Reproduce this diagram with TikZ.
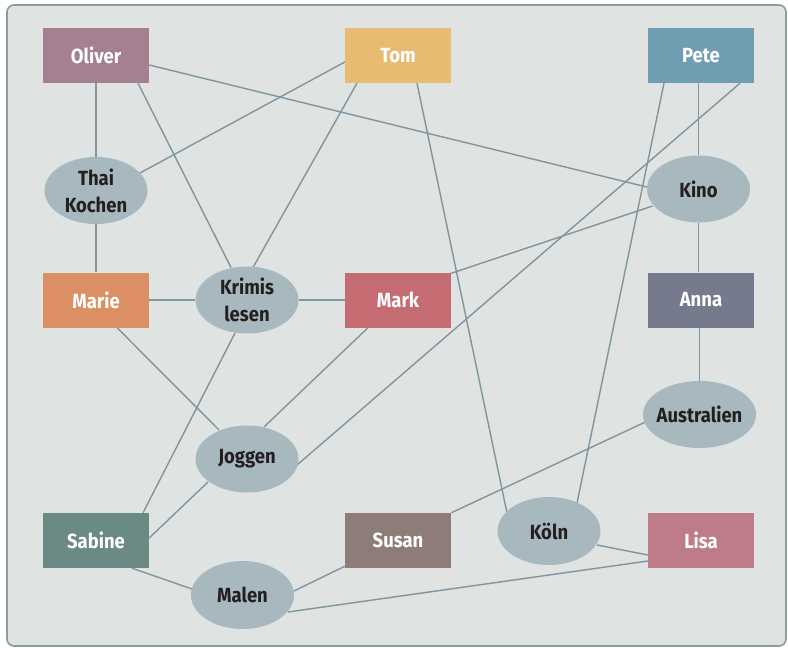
\documentclass[tikz,border=0pt]{standalone}
\usepackage{fontspec}
\setmainfont{Fira Sans}[FakeStretch=0.9]
\usetikzlibrary{shapes.geometric,calc,backgrounds}

\definecolor{panelfill}{HTML}{DFE3E2}
\definecolor{paneldraw}{HTML}{8E9C97}
\definecolor{linkcol}{HTML}{7F959F}
\definecolor{hobbyfill}{HTML}{A8B8BF}
\definecolor{darktext}{HTML}{231F20}
\definecolor{colOliver}{HTML}{A58093}
\definecolor{colTom}{HTML}{E8BB72}
\definecolor{colPete}{HTML}{6F9DB1}
\definecolor{colMarie}{HTML}{DC8F63}
\definecolor{colMark}{HTML}{C56C73}
\definecolor{colAnna}{HTML}{757A8C}
\definecolor{colSabine}{HTML}{6B8A85}
\definecolor{colSusan}{HTML}{8E7C78}
\definecolor{colLisa}{HTML}{BE7C89}

\begin{document}
\begin{tikzpicture}[x=1pt,y=-1pt,
  labelfont/.style={font=\bfseries\fontsize{20.5}{27}\selectfont},
  person/.style={rectangle, labelfont, minimum width=106pt, minimum height=55pt,
    inner sep=0pt, text=white},
  hobby/.style={ellipse, labelfont, fill=hobbyfill, minimum width=103pt,
    minimum height=67pt, inner sep=0pt, text=darktext, align=center},
  link/.style={draw=linkcol, line width=1.4pt}]

\useasboundingbox (0,0) rectangle (788,648);

\begin{scope}[on background layer]
  \draw[fill=panelfill, draw=paneldraw, line width=1.6pt, rounded corners=7pt]
    (7,5) rectangle (786,646);
\end{scope}

% people
\node[person, fill=colOliver] (oliver) at (96,55.5) {Oliver};
\node[person, fill=colTom]    (tom)    at (398,55.5) {Tom};
\node[person, fill=colPete]   (pete)   at (701,55.5) {Pete};
\node[person, fill=colMarie]  (marie)  at (96,300) {Marie};
\node[person, fill=colMark]   (mark)   at (398,300) {Mark};
\node[person, fill=colAnna]   (anna)   at (701,300) {Anna};
\node[person, fill=colSabine] (sabine) at (96,540.5) {Sabine};
\node[person, fill=colSusan]  (susan)  at (398,540.5) {Susan};
\node[person, fill=colLisa]   (lisa)   at (701,540.5) {Lisa};

% hobbies and places
\node[hobby] (thai)   at (96,190.5) {Thai\\Kochen};
\node[hobby] (kino)   at (698.5,189) {Kino};
\node[hobby] (krimis) at (247,300) {Krimis\\lesen};
\node[hobby, minimum width=113pt, inner xsep=-5pt] (austr) at (699.5,414.5) {Australien};
\node[hobby] (joggen) at (247,459) {Joggen};
\node[hobby, minimum height=68pt] (koeln)  at (549,531) {Köln};
\node[hobby, minimum height=68pt] (malen)  at (242.5,595) {Malen};

% connections
\begin{scope}[on background layer, every path/.style={link}]
  \draw (oliver.south) -- (thai.north);
  \draw (thai.south) -- (marie.north);
  \draw ($(oliver.south)+(42,0)$) -- ($(krimis)+(-16,-32.5)$);
  \draw ($(oliver.east)+(0,9.5)$) -- ($(kino.west)+(0,-2)$);
  \draw ($(tom.west)+(0,6.5)$) -- ($(thai)+(44,-17.5)$);
  \draw ($(tom.south)+(-41,0)$) -- ($(krimis)+(6,-32.5)$);
  \draw ($(tom.south)+(19,0)$) -- ($(koeln)+(-42,-18)$);
  \draw (kino.north |- pete.south) -- (kino.north);
  \draw ($(pete.south)+(-37,0)$) -- ($(koeln)+(28,-28)$);
  \draw ($(pete.south)+(39,0)$) -- ($(joggen)+(50,6)$);
  \draw (marie.east) -- (krimis.west);
  \draw (krimis.east) -- (mark.west);
  \draw ($(marie.south)+(21,0)$) -- ($(joggen)+(-28,-29)$);
  \draw ($(krimis)+(-12,33)$) -- ($(sabine.north)+(47,0)$);
  \draw ($(mark.south)+(-30,0)$) -- ($(joggen)+(17,-32)$);
  \draw ($(mark.north east)+(0,1)$) -- ($(kino)+(-46,17)$);
  \draw (kino.south) -- (kino.south |- anna.north);
  \draw (austr.north |- anna.south) -- (austr.north);
  \draw (susan.north east) -- ($(austr)+(-53,7)$);
  \draw ($(joggen)+(-39,23)$) -- ($(sabine.east)+(0,-2.5)$);
  \draw ($(sabine.south)+(36,0)$) -- ($(malen)+(-50.5,-6)$);
  \draw ($(malen)+(51.5,-4)$) -- ($(susan.south west)+(0,-2)$);
  \draw ($(malen)+(45.5,17)$) -- ($(lisa.west)+(0,20.5)$);
  \draw ($(koeln)+(48,14)$) -- ($(lisa.west)+(0,14.5)$);
\end{scope}
\end{tikzpicture}
\end{document}
